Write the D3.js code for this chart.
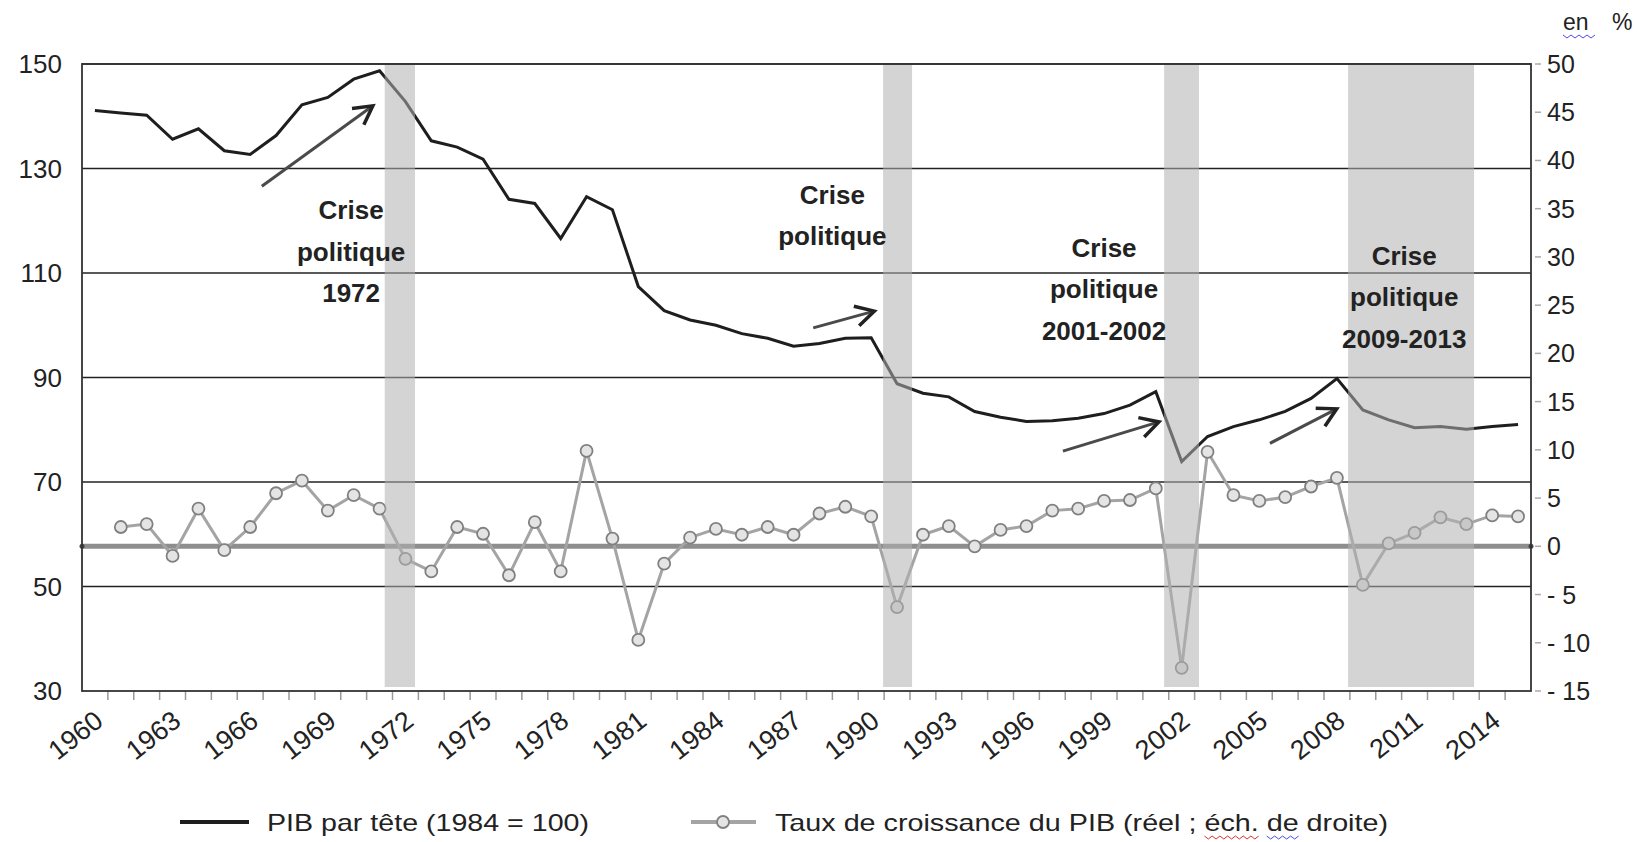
<!DOCTYPE html>
<html>
<head>
<meta charset="utf-8">
<script src="https://cdn.jsdelivr.net/npm/d3@7"></script>
<style>
  body { margin: 0; background: #fff; }
  text { font-family: "Liberation Sans", Arial, sans-serif; fill: #222; }
</style>
</head>
<body>
<script>
// values
var years = d3.range(1960, 2016);
var pib = [141.1, 140.6, 140.2, 135.6, 137.6, 133.4, 132.7, 136.3, 142.2, 143.6,
  147.1, 148.7, 142.8, 135.3, 134.1, 131.8, 124.1, 123.3, 116.6, 124.6,
  122.1, 107.4, 102.8, 101.0, 100.0, 98.4, 97.5, 96.0, 96.5, 97.5,
  97.6, 88.8, 87.0, 86.3, 83.5, 82.4, 81.6, 81.7, 82.2, 83.1,
  84.7, 87.3, 73.9, 78.7, 80.6, 81.9, 83.5, 86.0, 89.8, 83.8,
  81.9, 80.4, 80.6, 80.1, 80.6, 81.0];
var growth = [null, 2.0, 2.3, -1.0, 3.9, -0.4, 2.0, 5.5, 6.8, 3.7,
  5.3, 3.9, -1.3, -2.6, 2.0, 1.3, -3.0, 2.5, -2.6, 9.9,
  0.8, -9.7, -1.8, 0.9, 1.8, 1.2, 2.0, 1.2, 3.4, 4.1,
  3.1, -6.3, 1.2, 2.1, 0.0, 1.7, 2.1, 3.7, 3.9, 4.7,
  4.8, 6.0, -12.6, 9.8, 5.3, 4.7, 5.1, 6.2, 7.1, -4.0,
  0.3, 1.4, 3.0, 2.3, 3.2, 3.1];
var leftTicks = [30, 50, 70, 90, 110, 130, 150];
var rightTicks = d3.range(-15, 55, 5);
var xLabels = d3.range(1960, 2016, 3);
// shaded crisis periods, in years
var crises = [[1971.7, 1972.87], [1990.96, 1992.08], [2001.82, 2003.17], [2008.93, 2013.8]];
var notes = [
  { lines: ["Crise", "politique", "1972"], year: 1970.4, value: 122.0 },
  { lines: ["Crise", "politique"], year: 1989.0, value: 125.0 },
  { lines: ["Crise", "politique", "2001-2002"], year: 1999.5, value: 114.8 },
  { lines: ["Crise", "politique", "2009-2013"], year: 2011.1, value: 113.3 }
];
var arrows = [
  [1966.95, 126.6, 1971.24, 142.0],
  [1988.26, 99.5, 1990.62, 102.7],
  [1997.91, 75.9, 2001.62, 81.5],
  [2005.91, 77.4, 2008.49, 84.0]
];

var w = 1642, h = 842;
var pl = 82, pr = 1531, pt = 64, pb = 691;

var svg = d3.select("body").append("svg")
  .attr("width", w)
  .attr("height", h);

var x = d3.scaleBand().domain(years).range([pl, pr]).padding(0);
var xl = d3.scaleLinear().domain([1960, 2016]).range([pl, pr]);
var y = d3.scaleLinear().domain([30, 150]).range([pb, pt]);
var y2 = d3.scaleLinear().domain([-15, 50]).range([pb, pt]);
var cx = function(yr) { return x(yr) + x.bandwidth() / 2; };

// gridlines
svg.selectAll("line.grid")
  .data(leftTicks.slice(1))
  .enter()
  .append("line")
  .attr("x1", pl).attr("x2", pr)
  .attr("y1", function(d) { return y(d); })
  .attr("y2", function(d) { return y(d); })
  .attr("stroke", "#222")
  .attr("stroke-width", 1.5);

// left labels
svg.selectAll("text.left")
  .data(leftTicks)
  .enter()
  .append("text")
  .attr("x", 62)
  .attr("y", function(d) { return y(d) + 9; })
  .attr("text-anchor", "end")
  .attr("font-size", 26)
  .text(function(d) { return d; });

// right ticks and labels
svg.selectAll("line.rt")
  .data(rightTicks)
  .enter()
  .append("line")
  .attr("x1", pr + 4).attr("x2", pr + 10)
  .attr("y1", function(d) { return y2(d); })
  .attr("y2", function(d) { return y2(d); })
  .attr("stroke", "#aaa")
  .attr("stroke-width", 1.5);

svg.selectAll("text.right")
  .data(rightTicks)
  .enter()
  .append("text")
  .attr("x", 1547)
  .attr("y", function(d) { return y2(d) + 9; })
  .attr("font-size", 25)
  .text(function(d) { return d < 0 ? "- " + Math.abs(d) : d; });

svg.append("text").attr("x", 1563).attr("y", 30).attr("font-size", 23).text("en");
svg.append("text").attr("x", 1612).attr("y", 30).attr("font-size", 23).text("%");
svg.append("path")
  .attr("d", d3.range(0, 9).map(function(i) { return (i ? "L" : "M") + (1563 + i * 4) + "," + (35 + (i % 2) * 3); }).join(""))
  .attr("fill", "none").attr("stroke", "#4a4af0").attr("stroke-width", 1);

// x axis ticks
svg.selectAll("line.xt")
  .data(years.slice(1))
  .enter()
  .append("line")
  .attr("x1", function(d) { return x(d); })
  .attr("x2", function(d) { return x(d); })
  .attr("y1", pb).attr("y2", pb + 9)
  .attr("stroke", "#999")
  .attr("stroke-width", 1.5);

svg.selectAll("text.xl")
  .data(xLabels)
  .enter()
  .append("text")
  .attr("transform", function(d) { return "translate(" + (cx(d) + 10) + "," + 724 + ") rotate(-38)"; })
  .attr("text-anchor", "end")
  .attr("font-size", 27)
  .text(function(d) { return d; });

// zero line of the right scale
svg.append("line")
  .attr("x1", pl).attr("x2", pr)
  .attr("y1", y2(0)).attr("y2", y2(0))
  .attr("stroke", "#8e8e8e")
  .attr("stroke-width", 5);
svg.selectAll("circle.end")
  .data([pl, pr])
  .enter()
  .append("circle")
  .attr("cx", function(d) { return d; })
  .attr("cy", y2(0))
  .attr("r", 2.5)
  .attr("fill", "#444");

// PIB par tete
var line = d3.line()
  .x(function(d, i) { return cx(years[i]); })
  .y(function(d) { return y(d); });

svg.append("path")
  .datum(pib)
  .attr("d", line)
  .attr("fill", "none")
  .attr("stroke", "#1e1e1e")
  .attr("stroke-width", 3);

// growth
var line2 = d3.line()
  .defined(function(d) { return d !== null; })
  .x(function(d, i) { return cx(years[i]); })
  .y(function(d) { return y2(d); });

svg.append("path")
  .datum(growth)
  .attr("d", line2)
  .attr("fill", "none")
  .attr("stroke", "#a4a4a4")
  .attr("stroke-width", 3);

svg.selectAll("circle.g")
  .data(years.filter(function(d, i) { return growth[i] !== null; }))
  .enter()
  .append("circle")
  .attr("cx", function(d) { return cx(d); })
  .attr("cy", function(d) { return y2(growth[d - 1960]); })
  .attr("r", 6)
  .attr("fill", "#e4e4e4")
  .attr("stroke", "#808080")
  .attr("stroke-width", 1.8);

// crisis bands over everything
svg.selectAll("rect.band")
  .data(crises)
  .enter()
  .append("rect")
  .attr("x", function(d) { return xl(d[0]); })
  .attr("width", function(d) { return xl(d[1]) - xl(d[0]); })
  .attr("y", pt + 1)
  .attr("height", pb - pt - 5)
  .attr("fill", "#b0b0b0")
  .attr("opacity", 0.55);

// frame
svg.append("rect")
  .attr("x", pl).attr("y", pt)
  .attr("width", pr - pl).attr("height", pb - pt)
  .attr("fill", "none")
  .attr("stroke", "#333")
  .attr("stroke-width", 1.8);

// arrows
svg.selectAll("g.arrow")
  .data(arrows)
  .enter()
  .append("g")
  .each(function(d) {
    var x1 = xl(d[0]), y1 = y(d[1]), x2 = xl(d[2]), y2p = y(d[3]);
    var a = Math.atan2(y2p - y1, x2 - x1), L = 21, s = 0.5;
    var g = d3.select(this);
    g.append("line")
      .attr("x1", x1).attr("y1", y1).attr("x2", x2).attr("y2", y2p)
      .attr("stroke", "#4a4a4a").attr("stroke-width", 3);
    g.append("path")
      .attr("d", "M" + (x2 - L * Math.cos(a - s)) + "," + (y2p - L * Math.sin(a - s)) +
        "L" + x2 + "," + y2p +
        "L" + (x2 - L * Math.cos(a + s)) + "," + (y2p - L * Math.sin(a + s)))
      .attr("fill", "none").attr("stroke", "#222").attr("stroke-width", 3.5);
  });

// notes
notes.forEach(function(n) {
  var t = svg.append("text")
    .attr("text-anchor", "middle")
    .attr("font-size", 26)
    .attr("font-weight", "bold");
  n.lines.forEach(function(s, i) {
    t.append("tspan")
      .attr("x", xl(n.year))
      .attr("y", y(n.value) + 9 + i * 41.5)
      .text(s);
  });
});

// legend
svg.append("line")
  .attr("x1", 180).attr("x2", 249).attr("y1", 822).attr("y2", 822)
  .attr("stroke", "#1e1e1e").attr("stroke-width", 4);
svg.append("text")
  .attr("x", 267).attr("y", 831)
  .attr("font-size", 24)
  .attr("textLength", 322).attr("lengthAdjust", "spacingAndGlyphs")
  .text("PIB par tête (1984 = 100)");

svg.append("line")
  .attr("x1", 691).attr("x2", 756).attr("y1", 822).attr("y2", 822)
  .attr("stroke", "#a4a4a4").attr("stroke-width", 4);
svg.append("circle")
  .attr("cx", 723).attr("cy", 822).attr("r", 6)
  .attr("fill", "#e4e4e4").attr("stroke", "#808080").attr("stroke-width", 1.8);

var lg = "Taux de croissance du PIB (réel ; éch. de droite)";
var lt = svg.append("text")
  .attr("x", 775).attr("y", 831)
  .attr("font-size", 24)
  .text(lg);
var natural = lt.node().getComputedTextLength();
var k = 613 / natural;
var node = lt.node();
var squiggles = [["éch.", "#e03030"], ["de", "#4a4af0"]];
squiggles.forEach(function(q) {
  var i = lg.indexOf(q[0], q[0] === "de" ? lg.indexOf("éch.") : 0);
  var sx = 775 + node.getSubStringLength(0, i) * k;
  var sw = node.getSubStringLength(i, q[0].length) * k;
  var n = Math.max(2, Math.round(sw / 4));
  svg.append("path")
    .attr("d", d3.range(0, n + 1).map(function(j) { return (j ? "L" : "M") + (sx + j * sw / n) + "," + (836 + (j % 2) * 3); }).join(""))
    .attr("fill", "none").attr("stroke", q[1]).attr("stroke-width", 1);
});
lt.attr("textLength", 613).attr("lengthAdjust", "spacingAndGlyphs");
</script>
</body>
</html>
